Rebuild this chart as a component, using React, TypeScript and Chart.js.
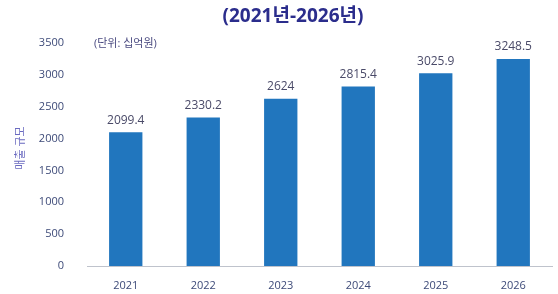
import React, { useEffect, useRef } from "react";
import { Chart, registerables } from "chart.js";

Chart.register(...registerables);

const categories = ["2021", "2022", "2023", "2024", "2025", "2026"];
const salesValues = [2099.4, 2330.2, 2624, 2815.4, 3025.9, 3248.5];
const valueLabels = ["2099.4", "2330.2", "2624", "2815.4", "3025.9", "3248.5"];
const titleText = "(2021년-2026년)";
const unitText = "(단위: 십억원)";
const yAxisTitle = "매출 규모";

const FONT = "'Open Sans', 'Noto Sans CJK KR', sans-serif";

const overlayPlugin = {
  id: "overlay",
  afterDatasetsDraw(chart: any) {
    const ctx = chart.ctx;
    ctx.save();
    // value labels
    const meta = chart.getDatasetMeta(0);
    ctx.fillStyle = "#4a4a68";
    ctx.font = `12px ${FONT}`;
    ctx.textAlign = "center";
    ctx.textBaseline = "bottom";
    meta.data.forEach((bar: any, i: number) => {
      ctx.fillText(valueLabels[i], bar.x, bar.y - 6);
    });
    // title
    ctx.fillStyle = "#2b2d8c";
    ctx.font = `bold 19px ${FONT}`;
    ctx.textBaseline = "middle";
    ctx.fillText(titleText, 293, 17);
    // unit
    ctx.fillStyle = "#4a4a80";
    ctx.font = `11px ${FONT}`;
    ctx.textAlign = "left";
    ctx.fillText(unitText, 94, 44);
    // y axis title
    ctx.translate(21, 148);
    ctx.rotate(-Math.PI / 2);
    ctx.textAlign = "center";
    ctx.fillStyle = "#6a6ac0";
    ctx.font = `11px ${FONT}`;
    ctx.fillText(yAxisTitle, 0, 0);
    ctx.restore();
  },
};

export default function App() {
  const ref = useRef<HTMLCanvasElement>(null);
  useEffect(() => {
    if (!ref.current) return;
    const chart = new Chart(ref.current, {
      type: "bar",
      data: {
        labels: categories,
        datasets: [
          {
            data: salesValues,
            backgroundColor: "#2176be",
            barPercentage: 0.43,
            categoryPercentage: 1,
          },
        ],
      },
      options: {
        responsive: false,
        animation: false,
        layout: { padding: { top: 43, right: 6, left: 0, bottom: 0 } },
        plugins: { legend: { display: false }, tooltip: { enabled: false } },
        scales: {
          x: {
            grid: { display: false },
            border: { display: true, color: "#bfc3cc", width: 1 },
            ticks: { color: "#3d4a78", font: { family: FONT, size: 11 }, padding: 5 },
            afterFit(scale: any) {
              scale.height = 28;
            },
          },
          y: {
            min: 0,
            max: 3500,
            grid: { display: false },
            border: { display: false },
            ticks: {
              stepSize: 500,
              color: "#3d4a78",
              font: { family: FONT, size: 11 },
              padding: 15,
              callback: (v: any) => String(v),
            },
            afterFit(scale: any) {
              scale.width = 87;
            },
          },
        },
      },
      plugins: [overlayPlugin],
    });
    return () => chart.destroy();
  }, []);
  return (
    <div style={{ position: "absolute", left: 0, top: 0, width: 558, height: 294, background: "#fff" }}>
      <canvas ref={ref} width={558} height={294} />
    </div>
  );
}
